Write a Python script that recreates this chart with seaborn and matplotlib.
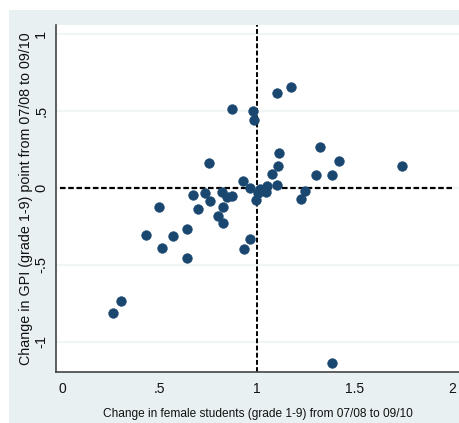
# Scatter: change in female students vs change in GPI (grade 1-9), 07/08 -> 09/10
import numpy as np
import pandas as pd
import matplotlib
matplotlib.use("Agg")
import matplotlib.pyplot as plt
import seaborn as sns
from matplotlib.patches import Rectangle

# valores
female_change = [1.101, 1.174, 0.870, 0.979, 0.985, 1.321, 1.113, 1.422, 1.744, 1.106,
                 1.079, 1.303, 1.383, 0.930, 1.050, 1.100, 0.964, 1.015, 1.045, 1.007,
                 1.248, 1.227, 0.993, 0.870, 0.755, 0.670, 0.733, 0.759, 0.819, 0.847,
                 0.824, 0.699, 0.798, 0.827, 0.643, 0.499, 0.429, 0.511, 0.571, 0.643,
                 0.303, 0.263, 0.962, 0.933, 1.386]
gpi_change = [0.616, 0.654, 0.511, 0.502, 0.442, 0.268, 0.229, 0.177, 0.141, 0.141,
              0.091, 0.082, 0.086, 0.045, 0.015, 0.017, 0.002, -0.004, -0.026, -0.030,
              -0.017, -0.073, -0.078, -0.052, 0.160, -0.045, -0.035, -0.084, -0.024, -0.061,
              -0.121, -0.136, -0.180, -0.229, -0.268, -0.126, -0.303, -0.392, -0.314, -0.457,
              -0.732, -0.814, -0.333, -0.398, -1.134]

x_ticks = [0, 0.5, 1, 1.5, 2]
x_ticklabels = ["0", ".5", "1", "1.5", "2"]
y_ticks = [-1, -0.5, 0, 0.5, 1]
y_ticklabels = ["-1", "-.5", "0", ".5", "1"]

df = pd.DataFrame({"female": female_change, "gpi": gpi_change})

sns.set_style("white")
plt.rcParams["font.family"] = ["Liberation Sans", "DejaVu Sans"]

W, H = 459, 423
fig = plt.figure(figsize=(W / 100, H / 100), dpi=100, facecolor="white")

# fundo cinza-azulado estilo Stata
fig.patches.append(Rectangle((9 / W, 0), 1, 1 - 10 / H, transform=fig.transFigure,
                             facecolor="#e9f0f2", edgecolor="none", zorder=-10))

ax = fig.add_axes([56 / W, 1 - 372 / H, (W - 56) / W, (372 - 25) / H])
ax.set_facecolor("white")

for yv in y_ticks:
    ax.axhline(yv, color="#eef3f4", lw=1.2, zorder=0)

ax.hlines(0, -0.01, 2.005, colors="black", linestyles=(0, (2.5, 1.2)), lw=1.6, zorder=1)
ax.axvline(1, color="black", linestyle=(0, (2.5, 1.2)), lw=1.4, zorder=1)

sns.scatterplot(data=df, x="female", y="gpi", ax=ax, s=50, color="#1a476f",
                edgecolor="#1a476f", linewidth=0.3, zorder=3)

ax.set_xlim(-0.031, 2.036)
ax.set_ylim(-1.195, 1.058)

ax.set_xticks(x_ticks)
ax.set_xticklabels(x_ticklabels, fontsize=10)
ax.set_yticks(y_ticks)
ax.set_yticklabels(y_ticklabels, rotation=90, va="center", fontsize=10.5)

ax.tick_params(axis="x", length=5, width=1, color="#333333", pad=2, labelcolor="#111111")
ax.tick_params(axis="y", length=4, width=1, color="#333333", pad=1.5, labelcolor="#111111")

for side in ["top", "right"]:
    ax.spines[side].set_visible(False)
for side in ["left", "bottom"]:
    ax.spines[side].set_color("#444444")
    ax.spines[side].set_linewidth(1.2)

ax.set_xlabel("Change in female students (grade 1-9) from 07/08 to 09/10",
              fontsize=8.6, color="#111111", labelpad=9)
ax.set_ylabel("Change in GPI (grade 1-9) point from 07/08 to 09/10",
              fontsize=10.3, color="#111111", labelpad=1)

fig.savefig("out.png", dpi=100)
